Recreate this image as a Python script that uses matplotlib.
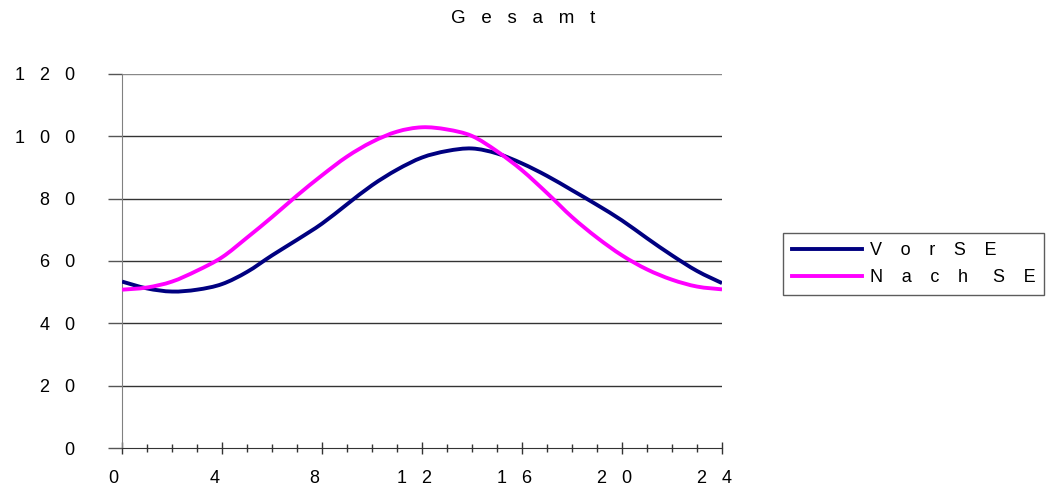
import matplotlib.pyplot as plt
from matplotlib.lines import Line2D
from matplotlib.patches import PathPatch
from matplotlib.path import Path
from matplotlib.ticker import MultipleLocator

hours = list(range(25))
vor_se = [53.4, 51.2, 50.2, 50.8, 52.6, 56.5, 61.8, 66.8, 72.0, 78.2, 84.3, 89.3, 93.2,
          95.3, 96.1, 94.5, 91.3, 87.3, 82.7, 78.0, 73.0, 67.3, 61.8, 56.8, 52.9]
nach_se = [50.8, 51.5, 53.4, 56.9, 61.2, 67.5, 74.1, 81.0, 87.5, 93.5, 98.2, 101.5, 102.9,
           102.2, 100.1, 95.2, 89.1, 81.8, 74.1, 67.5, 61.8, 57.3, 54.0, 51.8, 50.9]
x_ticks = [0, 4, 8, 12, 16, 20, 24]
y_ticks = [0, 20, 40, 60, 80, 100, 120]
series_names = ["VorSE", "Nach SE"]


def spaced(s, gap="   ", word_gap="       "):
    # wide letter spacing like the old spreadsheet export
    return word_gap.join(gap.join(w) for w in s.split(" "))


def smooth_path(xs, ys):
    # bezier through every point, spreadsheet "smoothed line" style
    n = len(xs)
    verts = [(xs[0], ys[0])]
    codes = [Path.MOVETO]
    for i in range(n - 1):
        a = max(i - 1, 0)
        b = min(i + 2, n - 1)
        c1 = (xs[i] + (xs[i + 1] - xs[a]) / 6, ys[i] + (ys[i + 1] - ys[a]) / 6)
        c2 = (xs[i + 1] - (xs[b] - xs[i]) / 6, ys[i + 1] - (ys[b] - ys[i]) / 6)
        verts += [c1, c2, (xs[i + 1], ys[i + 1])]
        codes += [Path.CURVE4] * 3
    return Path(verts, codes)


plt.rcParams['font.family'] = ['Liberation Sans', 'DejaVu Sans']

fig = plt.figure(figsize=(10.64, 4.9), dpi=100)
ax = fig.add_axes([0.1147, 0.0857, 0.5639, 0.7633])

for y in y_ticks[1:]:
    ax.axhline(y, color='#333333' if y < 120 else '#888888', lw=1, zorder=1)

colors = ['#000080', '#FF00FF']
for ys, c in zip([vor_se, nach_se], colors):
    ax.add_patch(PathPatch(smooth_path(hours, ys), fill=False, edgecolor=c,
                           lw=2.8, zorder=3))

ax.set_xlim(0, 24)
ax.set_ylim(0, 120)
ax.set_xticks(x_ticks)
ax.set_xticklabels([spaced(str(t)) + "   " for t in x_ticks])
ax.xaxis.set_minor_locator(MultipleLocator(1))
ax.set_yticks(y_ticks)
ax.set_yticklabels([spaced(str(t)) for t in y_ticks])

for side in ['top', 'right']:
    ax.spines[side].set_visible(False)
ax.spines['left'].set_color('#808080')
ax.spines['bottom'].set_color('#333333')

ax.tick_params(axis='y', direction='out', length=10, width=1, color='#555555',
               pad=24, labelsize=13)
ax.tick_params(axis='x', which='major', direction='inout', length=8, width=1,
               color='#333333', pad=12, labelsize=13)
ax.tick_params(axis='x', which='minor', direction='inout', length=6, width=1,
               color='#333333')

fig.text(0.4915, 0.962, spaced("Gesamt"), ha='center', va='center', fontsize=13.5)

handles = [Line2D([], [], color=c, lw=2.8) for c in colors]
leg_labels = [spaced(s, gap="   \u2009", word_gap="     ") for s in series_names]
leg = fig.legend(handles=handles, labels=leg_labels,
                 loc='upper left', bbox_to_anchor=(783 / 1064, 1 - 233 / 490),
                 fontsize=13, frameon=True, fancybox=False, handlelength=3.9,
                 handletextpad=0.4, borderpad=0.5, labelspacing=0.55,
                 borderaxespad=0)
leg.get_frame().set_edgecolor('#333333')
leg.get_frame().set_linewidth(1)

fig.savefig('out.png', dpi=100)
